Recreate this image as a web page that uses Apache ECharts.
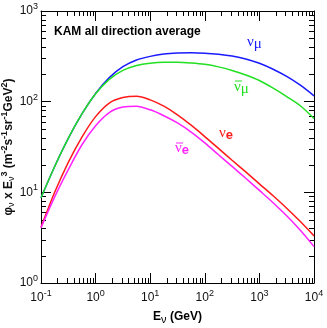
<!DOCTYPE html>
<html>
<head>
<meta charset="utf-8">
<script src="https://cdn.jsdelivr.net/npm/echarts@6/dist/echarts.min.js"></script>
<style>
  html, body { margin: 0; background: #fff; }
  #chart { width: 327px; height: 328px; }
</style>
</head>
<body>
<div id="chart"></div>
<script>
// energy in GeV, flux x E^3
const energy = [0.1, 0.178, 0.316, 0.562, 1, 1.78, 3.16, 5.62, 10, 17.8, 31.6, 56.2, 100, 178, 316, 562, 1000, 1780, 3160, 5620, 10000]
const numu = [8.71, 19.3, 39.4, 73.3, 123, 184, 243, 288, 316, 335, 344, 347, 343, 333, 318, 296, 265, 228, 190, 152, 116]
const numubar = [8.71, 19.3, 39.4, 73.3, 122, 176, 221, 251, 266, 272, 272, 267, 258, 242, 221, 197, 171, 141, 114, 90.2, 65.3]
const nue = [4.12, 10.0, 21.4, 40.7, 68.4, 96.6, 110.9, 114.8, 104.7, 89.1, 71.6, 55.0, 41.2, 30.5, 22.6, 16.8, 12.4, 9.16, 6.68, 4.76, 3.31]
const nuebar = [4.07, 8.91, 17.8, 33.5, 54.3, 75.9, 87.1, 89.1, 81.3, 70.0, 58.2, 46.2, 35.1, 26.0, 19.3, 14.3, 10.5, 7.69, 5.51, 3.81, 2.52]

const FONT = 'Liberation Sans, Arial, sans-serif'
const SERIF = 'Liberation Serif, DejaVu Serif, serif'

const chart = echarts.init(document.getElementById('chart'))

function pairs(ys) {
  return energy.map((e, i) => [e, ys[i]])
}

function powLabel(v) {
  const p = Math.round(Math.log10(v))
  return '{b|10}{s|' + p + '}'
}

const tickRich = {
  b: { fontSize: 12, fontFamily: FONT, color: '#111' },
  s: { fontSize: 9, fontFamily: FONT, color: '#111', padding: [0, 0, 9, 0] }
}

function axisCommon(extra) {
  return Object.assign({
    type: 'log',
    logBase: 10,
    nameMoveOverlap: false,
    axisLine: { onZero: false, lineStyle: { color: '#000', width: 1 } },
    axisTick: { inside: true, length: 10, lineStyle: { color: '#000' } },
    splitLine: { show: false },
    minorTick: { show: false }
  }, extra)
}

function line(name, ys, color) {
  return {
    name: name,
    type: 'line',
    data: pairs(ys),
    showSymbol: false,
    smooth: 0.3,
    lineStyle: { color: color, width: 1.5 },
    itemStyle: { color: color },
    xAxisIndex: 0,
    yAxisIndex: 0,
    z: 3
  }
}

const option = {
  animation: false,
  backgroundColor: '#fff',
  grid: { left: 41, right: 13, top: 11, bottom: 45, containLabel: false, outerBoundsMode: 'none' },
  xAxis: [
    axisCommon({
      min: 0.1, max: 10000, position: 'bottom',
      axisLabel: { formatter: powLabel, rich: tickRich, margin: 6 },
      name: '{b|E}{sub|ν}{b| (GeV)}',
      nameLocation: 'middle',
      nameGap: 25,
      nameTextStyle: {
        rich: {
          b: { fontSize: 12, fontWeight: 'bold', fontFamily: FONT, color: '#000' },
          sub: { fontSize: 11, fontFamily: FONT, color: '#000', padding: [6, 0, 0, 0] }
        }
      }
    }),
    axisCommon({ min: 0.1, max: 10000, position: 'top', axisLabel: { show: false } })
  ],
  yAxis: [
    axisCommon({
      min: 1, max: 1000, position: 'left',
      axisLabel: { formatter: powLabel, rich: tickRich, margin: 3 },
      name: '{b|φ}{sub|ν}{b| x E}{sub|ν}{sup|3}{b| (m}{sup|-2}{b|s}{sup|-1}{b|sr}{sup|-1}{b|GeV}{sup|2}{b|)}',
      nameLocation: 'middle',
      nameGap: 24,
      nameTextStyle: {
        rich: {
          b: { fontSize: 12, fontWeight: 'bold', fontFamily: FONT, color: '#111' },
          sub: { fontSize: 9, fontFamily: FONT, color: '#111', padding: [7, 0, 0, 0] },
          sup: { fontSize: 9, fontWeight: 'bold', fontFamily: FONT, color: '#111', padding: [0, 0, 8, 0] }
        }
      }
    }),
    axisCommon({ min: 1, max: 1000, position: 'right', axisLabel: { show: false } })
  ],
  series: [
    line('numu', numu, '#1a1aff'),
    line('numubar', numubar, '#22e022'),
    line('nue', nue, '#ff1a1a'),
    line('nuebar', nuebar, '#ff22ff')
  ]
}

chart.setOption(option)

// minor ticks at 2..9 of each decade, placed through the axis scales
function minorTicks() {
  const els = []
  const yBot = chart.convertToPixel({ yAxisIndex: 0 }, 1)
  const yTop = chart.convertToPixel({ yAxisIndex: 0 }, 1000)
  const xL = chart.convertToPixel({ xAxisIndex: 0 }, 0.1)
  const xR = chart.convertToPixel({ xAxisIndex: 0 }, 10000)
  const st = { stroke: '#000', lineWidth: 1 }
  for (let d = -1; d < 4; d++) {
    for (let k = 2; k <= 9; k++) {
      const x = Math.round(chart.convertToPixel({ xAxisIndex: 0 }, k * Math.pow(10, d))) + 0.5
      els.push({ type: 'line', shape: { x1: x, y1: yBot, x2: x, y2: yBot - 5 }, style: st, silent: true })
      els.push({ type: 'line', shape: { x1: x, y1: yTop, x2: x, y2: yTop + 5 }, style: st, silent: true })
    }
  }
  for (let d = 0; d < 3; d++) {
    for (let k = 2; k <= 9; k++) {
      const y = Math.round(chart.convertToPixel({ yAxisIndex: 0 }, k * Math.pow(10, d))) + 0.5
      els.push({ type: 'line', shape: { x1: xL, y1: y, x2: xL + 5, y2: y }, style: st, silent: true })
      els.push({ type: 'line', shape: { x1: xR, y1: y, x2: xR - 5, y2: y }, style: st, silent: true })
    }
  }
  return els
}

function bar(x1, x2, y, color) {
  return { type: 'line', shape: { x1: x1, y1: y, x2: x2, y2: y }, style: { stroke: color, lineWidth: 1 }, silent: true }
}

function label(x, y, rich, text) {
  return { type: 'text', x: x, y: y, silent: true, style: { text: text, rich: rich } }
}

const nuSty = { fontSize: 15, fontFamily: SERIF }
const labels = [
  {
    type: 'text', left: 54, top: 26, silent: true,
    style: { text: 'KAM all direction average', font: 'bold 12px ' + FONT, fill: '#000' }
  },
  label(247, 32, {
    n: Object.assign({ fill: '#1a1aff' }, nuSty),
    m: { fontSize: 15, fontFamily: SERIF, fill: '#1a1aff', padding: [5, 0, 0, 0] }
  }, '{n|ν}{m|μ}'),
  label(234, 77, {
    n: Object.assign({ fill: '#22e022' }, nuSty),
    m: { fontSize: 15, fontFamily: SERIF, fill: '#22e022', padding: [5, 0, 0, 0] }
  }, '{n|ν}{m|μ}'),
  bar(235, 242, 81, '#22e022'),
  label(219, 124, {
    n: Object.assign({ fill: '#ff1a1a' }, nuSty),
    m: { fontSize: 13, fontWeight: 'bold', fontFamily: FONT, fill: '#ff1a1a', padding: [5, 0, 0, 0] }
  }, '{n|ν}{m|e}'),
  label(175, 139, {
    n: Object.assign({ fill: '#ff22ff' }, nuSty),
    m: { fontSize: 13, fontWeight: 'bold', fontFamily: FONT, fill: '#ff22ff', padding: [5, 0, 0, 0] }
  }, '{n|ν}{m|e}'),
  bar(176, 183, 143, '#ff22ff')
]

chart.setOption({ graphic: { elements: minorTicks().concat(labels) } })
window.addEventListener('resize', () => { chart.resize() })
</script>
</body>
</html>
